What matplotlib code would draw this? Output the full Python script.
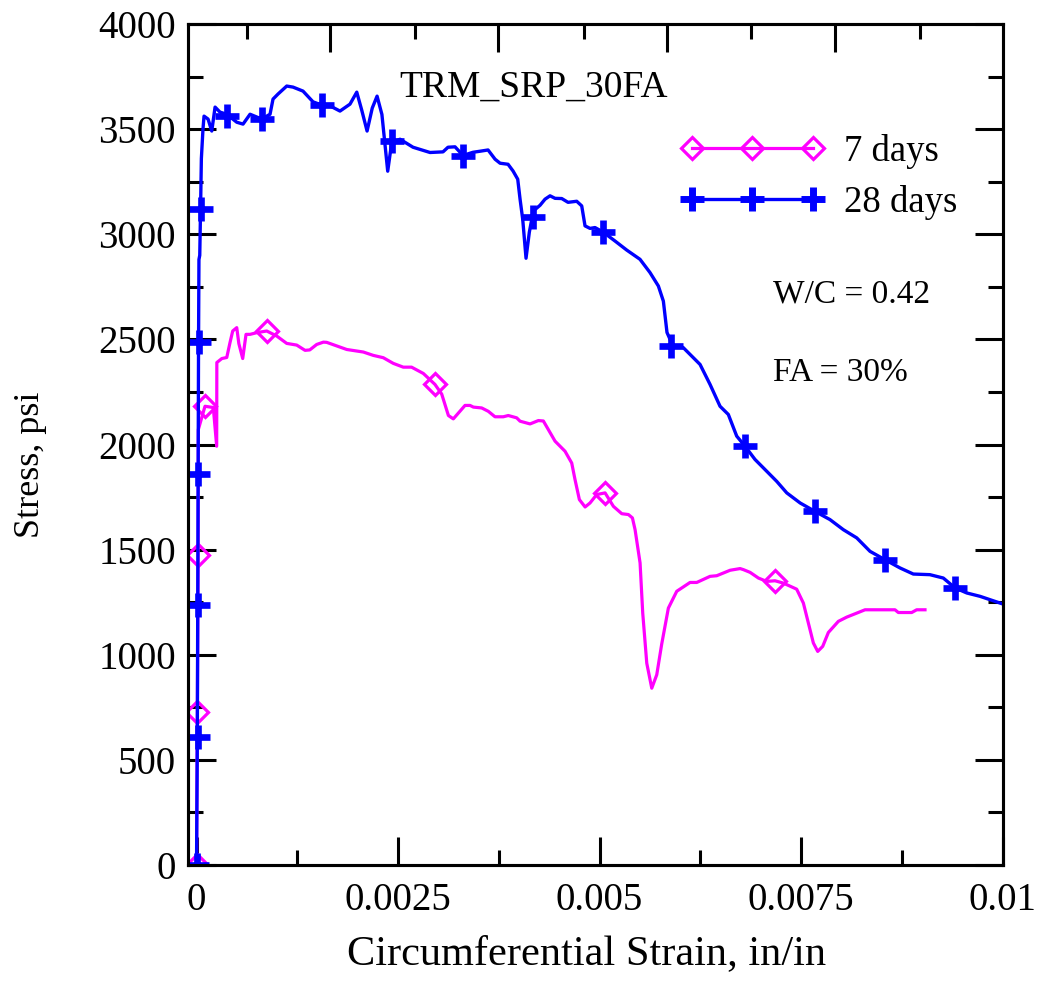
import matplotlib
matplotlib.use("Agg")
import matplotlib.pyplot as plt
from matplotlib.lines import Line2D
from matplotlib.ticker import FixedLocator, FuncFormatter

# 7 days curve (strain in/in, stress psi)
strain_7d = [0, 0.00001, 0.00002, 0.000022, 0.000105, 0.000208, 0.00025, 0.000252,
             0.000314, 0.000375, 0.000416, 0.000449, 0.000499, 0.000525, 0.000573,
             0.000614, 0.000664, 0.000747, 0.000871, 0.000995, 0.001119, 0.001243,
             0.001346, 0.001405, 0.001491, 0.001574, 0.001615, 0.001864, 0.002069,
             0.002193, 0.002317, 0.002441, 0.002565, 0.002668, 0.002814, 0.002958,
             0.003042, 0.003125, 0.003186, 0.003331, 0.003393, 0.003435, 0.003538,
             0.00362, 0.003703, 0.003806, 0.003868, 0.003972, 0.004014, 0.004138,
             0.004241, 0.004303, 0.004365, 0.004448, 0.004572, 0.004655, 0.004696,
             0.00475, 0.004821, 0.004882, 0.004965, 0.005069, 0.005172, 0.005276,
             0.005358, 0.005408, 0.005441, 0.005503, 0.005536, 0.005586, 0.005648,
             0.00571, 0.005771, 0.005854, 0.005958, 0.006123, 0.006206, 0.006371,
             0.006454, 0.00662, 0.006744, 0.006785, 0.006868, 0.006971, 0.007074,
             0.007177, 0.00728, 0.007446, 0.007529, 0.007591, 0.007653, 0.007707,
             0.007769, 0.007839, 0.007963, 0.008066, 0.00819, 0.008294, 0.00848,
             0.008666, 0.008707, 0.008873, 0.008935, 0.009038]
stress_7d = [0, 727, 1473, 2071, 2182, 2176, 1992, 2390,
             2409, 2414, 2486, 2540, 2556, 2480, 2409,
             2524, 2524, 2532, 2540, 2516, 2481, 2473,
             2448, 2450, 2476, 2487, 2486, 2452, 2440,
             2424, 2413, 2386, 2368, 2368, 2338, 2286,
             2240, 2138, 2122, 2186, 2186, 2178, 2174,
             2158, 2132, 2132, 2138, 2127, 2111, 2098,
             2114, 2112, 2071, 2016, 1968, 1912, 1833,
             1738, 1703, 1722, 1762, 1770, 1706, 1671,
             1667, 1651, 1595, 1437, 1198, 960, 841,
             905, 1050, 1222, 1302, 1344, 1344, 1373,
             1376, 1402, 1410, 1405, 1392, 1365, 1349,
             1352, 1341, 1312, 1246, 1151, 1056, 1016,
             1040, 1106, 1159, 1179, 1198, 1214, 1214,
             1214, 1201, 1201, 1214, 1214]
mark_strain_7d = [0, 0.00001, 0.00002, 0.000105, 0.000871, 0.002958, 0.005069, 0.007177]
mark_stress_7d = [0, 727, 1473, 2182, 2540, 2286, 1770, 1352]

# 28 days curve
strain_28d = [0, 0.00001, 0.000015, 0.00002, 0.000025, 0.00003, 0.00004, 0.00005,
              0.00006, 0.00008, 0.000093, 0.000143, 0.000189, 0.00023, 0.000291,
              0.000375, 0.000499, 0.000577, 0.000664, 0.000809, 0.000912, 0.000949,
              0.001011, 0.001119, 0.001197, 0.001321, 0.001445, 0.001557, 0.00166,
              0.00178, 0.001904, 0.001988, 0.00205, 0.002116, 0.00218, 0.00224,
              0.0023, 0.002372, 0.002422, 0.002525, 0.002686, 0.002897, 0.003058,
              0.00312, 0.003207, 0.003306, 0.00343, 0.003517, 0.003617, 0.003704,
              0.003766, 0.003865, 0.003927, 0.003985, 0.004014, 0.004047, 0.004088,
              0.004129, 0.004179, 0.004262, 0.004324, 0.004386, 0.004448, 0.004531,
              0.004609, 0.004717, 0.004779, 0.00482, 0.004882, 0.004944, 0.005043,
              0.005192, 0.005337, 0.005502, 0.005626, 0.00573, 0.005792, 0.005837,
              0.005912, 0.006036, 0.006247, 0.006371, 0.006495, 0.006598, 0.006702,
              0.006805, 0.006929, 0.007074, 0.007198, 0.007323, 0.007489, 0.007673,
              0.007859, 0.008025, 0.008191, 0.008356, 0.008542, 0.008728, 0.008893,
              0.009099, 0.009265, 0.009411, 0.009556, 0.009721, 0.009845, 0.01]
stress_28d = [0, 610, 1235, 1860, 2490, 2880, 2900, 3120,
              3360, 3500, 3562, 3548, 3491, 3605, 3581,
              3571, 3533, 3524, 3571, 3548, 3571, 3643,
              3667, 3705, 3700, 3681, 3630, 3614, 3610,
              3586, 3619, 3676, 3590, 3491, 3600, 3657,
              3570, 3300, 3438, 3452, 3414, 3389, 3392,
              3414, 3416, 3375, 3390, 3395, 3401, 3357,
              3338, 3333, 3301, 3262, 3167, 3071, 2886,
              3010, 3111, 3138, 3167, 3183, 3171, 3170,
              3152, 3157, 3135, 3040, 3028, 3032, 3011,
              2968, 2925, 2881, 2818, 2754, 2682, 2533,
              2468, 2462, 2381, 2286, 2182, 2143, 2040,
              1992, 1929, 1873, 1825, 1770, 1722, 1682,
              1643, 1595, 1556, 1492, 1452, 1413, 1384,
              1381, 1365, 1318, 1294, 1278, 1262, 1242]
mark_strain_28d = [0.00001, 0.00002, 0.00002, 0.00002, 0.00003, 0.00005, 0.000375, 0.000809,
                   0.001557, 0.002422, 0.003306, 0.004179, 0.005043, 0.00589, 0.006805,
                   0.007673, 0.008542, 0.009411]
mark_stress_28d = [0, 610, 1235, 1860, 2490, 3120, 3563, 3548,
                   3614, 3444, 3371, 3081, 3011, 2468, 1992,
                   1682, 1452, 1318]

x_major = [0, 0.0025, 0.005, 0.0075, 0.01]
x_minor = [0.00125, 0.00375, 0.00625, 0.00875]
top_major = [0.001656, 0.003741, 0.005833, 0.007922]
top_minor = [0.000623, 0.002711, 0.004802, 0.00688, 0.008974]
y_major = [0, 500, 1000, 1500, 2000, 2500, 3000, 3500, 4000]
y_minor = [250, 750, 1250, 1750, 2250, 2750, 3250, 3750]

MAGENTA = "#ff00ff"
BLUE = "#0000ff"

plt.rcParams["font.family"] = ["Liberation Serif", "DejaVu Serif"]

fig = plt.figure(figsize=(10.43, 9.85), dpi=100)
ax = fig.add_axes([0.1807, 0.1218, 0.7805, 0.8538])

ax.plot(strain_7d, stress_7d, color=MAGENTA, lw=2.3, zorder=3)
ax.plot(mark_strain_7d, mark_stress_7d, ls="none", marker="D", ms=11,
        mfc="none", mec=MAGENTA, mew=2.3, zorder=3)
ax.plot(strain_28d, stress_28d, color=BLUE, lw=2.4, zorder=4)
ax.plot(mark_strain_28d, mark_stress_28d, ls="none", marker="+", ms=17,
        mec=BLUE, mew=4.8, zorder=4)

ax.set_xlim(-0.0001, 0.01)
ax.set_ylim(0, 4000)

ax.xaxis.set_major_locator(FixedLocator(x_major))
ax.xaxis.set_minor_locator(FixedLocator(x_minor))
ax.yaxis.set_major_locator(FixedLocator(y_major))
ax.yaxis.set_minor_locator(FixedLocator(y_minor))
ax.xaxis.set_major_formatter(FuncFormatter(lambda v, p: "%g" % v))
ax.yaxis.set_major_formatter(FuncFormatter(lambda v, p: "%d" % v))

ax.tick_params(which="both", direction="in", width=2.2, labelsize=28,
               top=False, right=True, bottom=True, left=True)
ax.tick_params(which="major", length=20)
ax.tick_params(which="minor", length=11)
ax.tick_params(axis="x", pad=12)
ax.tick_params(axis="y", pad=9)

# top axis has its own tick spacing
ax_top = ax.twiny()
ax_top.set_xlim(ax.get_xlim())
ax_top.xaxis.set_major_locator(FixedLocator(top_major))
ax_top.xaxis.set_minor_locator(FixedLocator(top_minor))
ax_top.tick_params(which="both", direction="in", width=2.2, labeltop=False)
ax_top.tick_params(which="major", length=20)
ax_top.tick_params(which="minor", length=11)

for a in (ax, ax_top):
    for s in a.spines.values():
        s.set_linewidth(2.2)

ax.set_xlabel("Circumferential Strain, in/in", fontsize=30.5)
ax.set_ylabel("Stress, psi", fontsize=26)
ax.xaxis.set_label_coords(0.4895, -0.083)
ax.yaxis.set_label_coords(-0.174, 0.476)

ax.text(0.00252, 3700, "TRM_SRP_30FA", fontsize=27, va="center", ha="left")
ax.text(0.00715, 2714, "W/C = 0.42", fontsize=24, va="center", ha="left")
ax.text(0.00715, 2343, "FA = 30%", fontsize=24, va="center", ha="left")

handles = [
    Line2D([], [], color=MAGENTA, lw=2.3, marker="D", ms=11, mfc="none",
           mec=MAGENTA, mew=2.3),
    Line2D([], [], color=BLUE, lw=2.4, marker="+", ms=17, mec=BLUE, mew=5),
]
ax.legend(handles, ["7 days", "28 days"], loc="center left",
          bbox_to_anchor=(0.6045, 0.818), frameon=False, fontsize=26.5,
          numpoints=3, handlelength=3.9, handletextpad=0.55,
          labelspacing=0.45, borderpad=0, borderaxespad=0)

fig.savefig("out.png", dpi=100)
